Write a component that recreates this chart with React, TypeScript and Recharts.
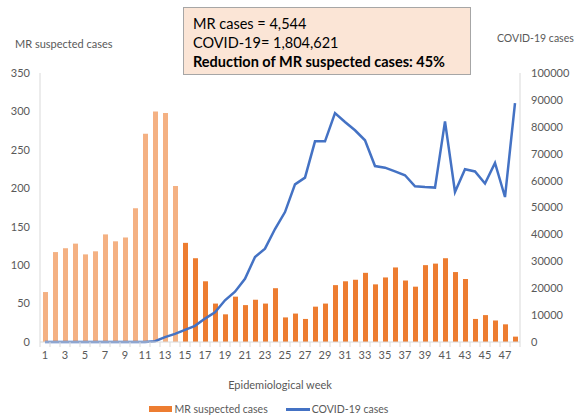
import { ComposedChart, Bar, Line, Cell, XAxis, YAxis, Legend } from 'recharts';

const weeks = [
  1, 2, 3, 4, 5, 6, 7, 8, 9, 10, 11, 12, 13, 14, 15, 16, 17, 18, 19, 20, 21, 22, 23, 24,
  25, 26, 27, 28, 29, 30, 31, 32, 33, 34, 35, 36, 37, 38, 39, 40, 41, 42, 43, 44, 45, 46, 47, 48,
];

const mrCases = [
  65, 117, 122, 128, 114, 118, 140, 131, 136, 174, 271, 300, 298, 203, 129, 109, 79, 50, 36, 59,
  48, 55, 50, 70, 32, 37, 30, 46, 50, 74, 79, 81, 90, 75, 84, 97, 80, 72, 100, 102,
  109, 91, 82, 30, 35, 28, 23, 7,
];

const covidCases = [
  0, 0, 0, 0, 0, 0, 0, 0, 0, 0, 0, 300, 1800, 3000, 4500, 6000, 8700, 11000, 15500, 18700,
  23500, 31600, 34700, 42000, 48300, 58600, 61100, 74600, 74600, 85100, 81800, 78700, 75000,
  65400, 64800, 63400, 62000, 57900, 57600, 57400, 82000, 55800, 64200, 63400, 58900, 66600,
  53900, 88800,
];

const leftTicks = [0, 50, 100, 150, 200, 250, 300, 350];
const rightTicks = [0, 10000, 20000, 30000, 40000, 50000, 60000, 70000, 80000, 90000, 100000];

// weeks before the pandemic are drawn lighter
const LAST_PRE_COVID_WEEK = 14;

const data = weeks.map((w, i) => ({ week: w, mr: mrCases[i], covid: covidCases[i] }));

const AXIS = '#D9D9D9';
const TEXT = '#595959';

const WeekTick = (props: any) => {
  const { x, y, payload, index } = props;
  const base = y - 9;
  return (
    <g>
      <line x1={x - 5} y1={base} x2={x - 5} y2={base + 5} stroke={AXIS} />
      {index === weeks.length - 1 && <line x1={x + 5} y1={base} x2={x + 5} y2={base + 5} stroke={AXIS} />}
      {index % 2 === 0 && (
        <text x={x} y={y} dy="0.71em" textAnchor="middle" fill={TEXT} fontSize={11}>
          {payload.value}
        </text>
      )}
    </g>
  );
};

const LegendContent = () => (
  <div style={{ height: 16, display: 'flex', justifyContent: 'center', alignItems: 'center', fontSize: 10.5, color: TEXT, paddingRight: 40 }}>
    <span style={{ display: 'inline-block', width: 23, height: 6, background: '#ED7D31', marginRight: 3 }} />
    <span style={{ marginRight: 18 }}>MR suspected cases</span>
    <span style={{ display: 'inline-block', width: 24, height: 3, background: '#4472C4', marginRight: 2 }} />
    <span>COVID-19 cases</span>
  </div>
);

export default function App() {
  return (
    <div style={{ position: 'absolute', left: 0, top: 0, width: 577, height: 418, fontFamily: 'Lato, sans-serif', background: '#fff' }}>
      <ComposedChart width={577} height={418} data={data} margin={{ top: 73, right: 0, bottom: 1, left: 0 }}>
        <XAxis
          dataKey="week"
          interval={0}
          height={59}
          stroke={AXIS}
          tickLine={false}
          tickSize={5}
          tickMargin={4}
          tick={<WeekTick />}
          label={{ value: 'Epidemiological week', position: 'insideBottom', offset: 12, fill: TEXT, fontSize: 11 }}
        />
        <YAxis
          yAxisId="left"
          width={40}
          domain={[0, 350]}
          ticks={leftTicks}
          stroke={AXIS}
          tickLine={false}
          tickMargin={4}
          tick={{ fill: TEXT, fontSize: 11 }}
        />
        <YAxis
          yAxisId="right"
          orientation="right"
          width={57}
          domain={[0, 100000]}
          ticks={rightTicks}
          stroke={AXIS}
          tickLine={false}
          tickMargin={5}
          tick={{ fill: TEXT, fontSize: 11, textAnchor: 'start' }}
        />
        <Legend verticalAlign="bottom" content={<LegendContent />} />
        <Bar yAxisId="left" dataKey="mr" name="MR suspected cases" barSize={5} fill="#ED7D31" isAnimationActive={false}>
          {data.map((d) => (
            <Cell key={d.week} fill={d.week <= LAST_PRE_COVID_WEEK ? '#F4B183' : '#ED7D31'} />
          ))}
        </Bar>
        <Line
          yAxisId="right"
          dataKey="covid"
          name="COVID-19 cases"
          type="linear"
          stroke="#4472C4"
          strokeWidth={2.5}
          dot={false}
          isAnimationActive={false}
        />
      </ComposedChart>

      <div style={{ position: 'absolute', left: 15, top: 37, fontSize: 11, color: TEXT, whiteSpace: 'nowrap' }}>
        MR suspected cases
      </div>
      <div style={{ position: 'absolute', left: 497, top: 32, fontSize: 10.5, color: TEXT, whiteSpace: 'nowrap' }}>
        COVID-19 cases
      </div>

      <div
        style={{
          position: 'absolute',
          left: 183,
          top: 7,
          width: 288,
          height: 68,
          boxSizing: 'border-box',
          background: '#FBE5D6',
          border: '1px solid #A6A6A6',
          padding: '6px 0 0 9px',
          fontSize: 14.5,
          lineHeight: '19px',
          color: '#000',
        }}
      >
        <div>MR cases = 4,544</div>
        <div>COVID-19= 1,804,621</div>
        <div style={{ fontWeight: 'bold' }}>Reduction of MR suspected cases: 45%</div>
      </div>
    </div>
  );
}
